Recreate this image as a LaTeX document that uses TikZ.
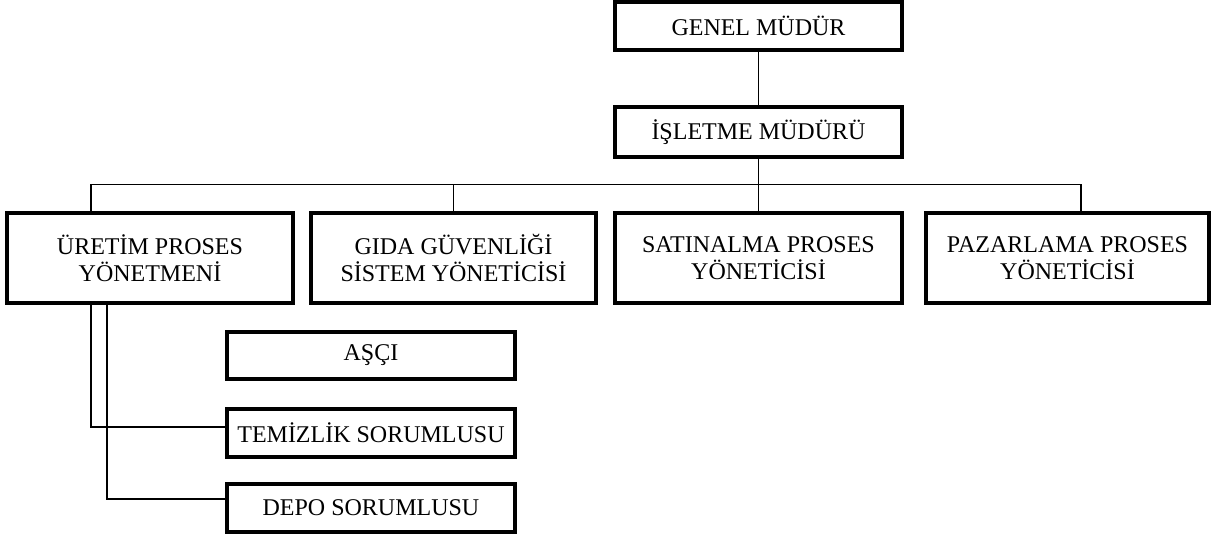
\documentclass[tikz,border=0pt]{standalone}
\usepackage{fontspec}
\setmainfont{Liberation Serif}
\begin{document}
\begin{tikzpicture}[x=1pt,y=1pt,
  unit/.style={draw, line width=3.4pt, rectangle, inner sep=0pt, align=center,
    font=\fontsize{24}{27}\selectfont},
  link/.style={line width=1.8pt}]
\useasboundingbox (0,0) rectangle (1211,537);

% management chain
\node[unit, minimum width=287, minimum height=48] (gm) at (758.5,511) {GENEL MÜDÜR};
\node[unit, minimum width=287, minimum height=50] (im) at (758.5,405) {İŞLETME MÜDÜRÜ};

% process managers
\node[unit, minimum width=286, minimum height=90] (up) at (150,279) {ÜRETİM PROSES\\YÖNETMENİ};
\node[unit, minimum width=285, minimum height=90] (gd) at (453.5,279) {GIDA GÜVENLİĞİ\\SİSTEM YÖNETİCİSİ};
\node[unit, minimum width=287, minimum height=90] (sp) at (758.5,279) {SATINALMA PROSES\\YÖNETİCİSİ};
\node[unit, minimum width=283, minimum height=90] (pp) at (1067.5,279) {PAZARLAMA PROSES\\YÖNETİCİSİ};

% production staff
\node[unit, minimum width=288, minimum height=47] (asci) at (371,181.5) {AŞÇI};
\node[unit, minimum width=288, minimum height=48] (tem) at (371,104) {TEMİZLİK SORUMLUSU};
\node[unit, minimum width=288, minimum height=48] (depo) at (371,29) {DEPO SORUMLUSU};

% connectors
\coordinate (busL) at (91,352.5);
\coordinate (busR) at (1081,352.5);
\coordinate (tj) at (91,110);
\coordinate (dj) at (107,38);

\draw[link] (gm.south) -- (im.north);
\draw[link] (im.south) -- (sp.north);
\draw[link] (busL) -- (busR);
\draw[link] (busL) -- (busL |- up.north);
\draw[link] (gd.north |- busL) -- (gd.north);
\draw[link] (busR) -- (busR |- pp.north);
\draw[link] (tj |- up.south) -- (tj) -- (tj -| tem.west);
\draw[link] (dj |- up.south) -- (dj) -- (dj -| depo.west);
\end{tikzpicture}
\end{document}
